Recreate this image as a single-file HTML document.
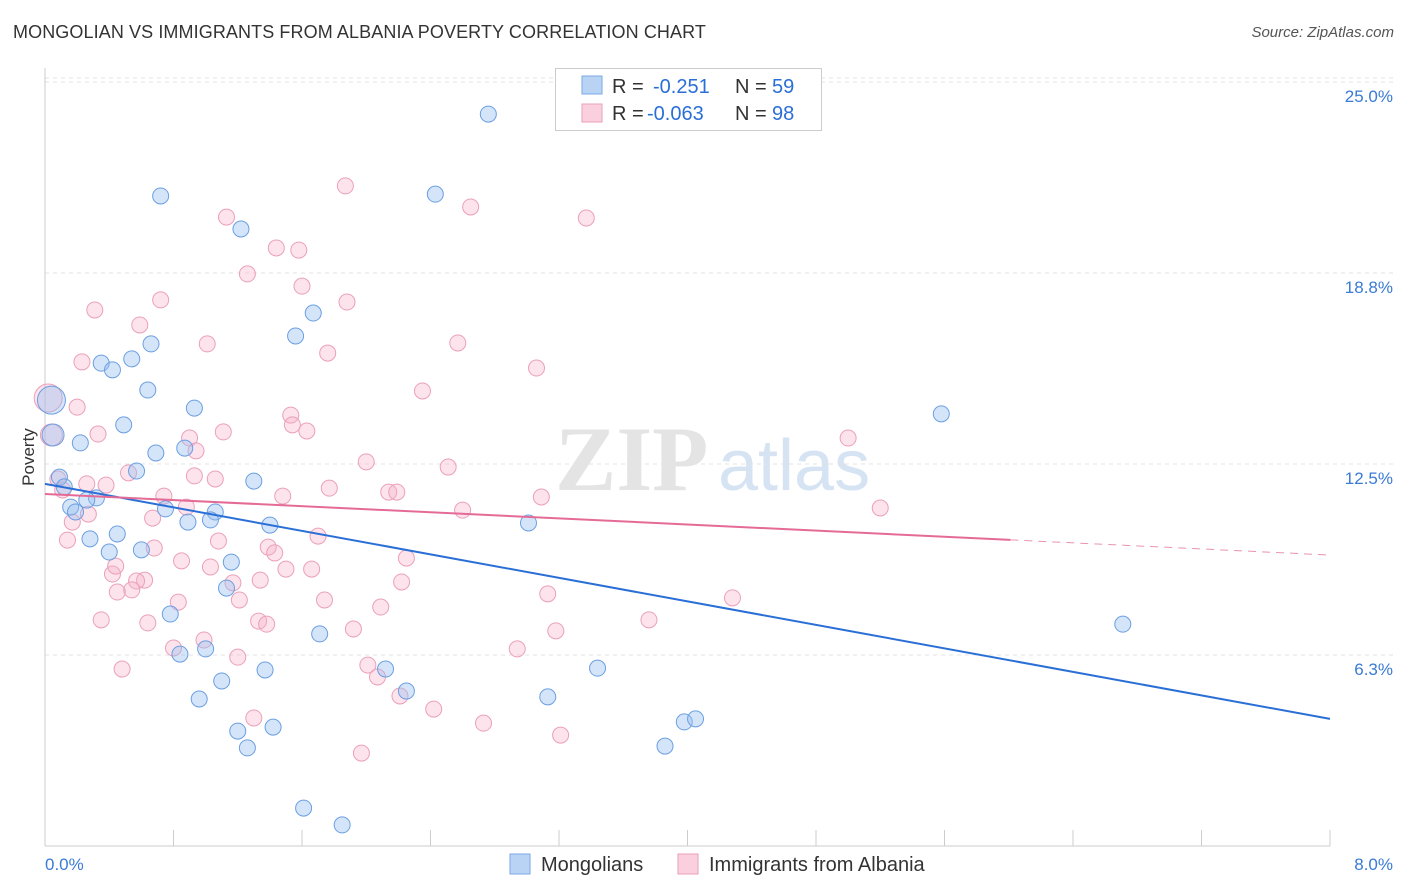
<!DOCTYPE html>
<html><head><meta charset="utf-8">
<style>
body{margin:0;background:#fff;font-family:"Liberation Sans",sans-serif;}
#wrap{position:relative;width:1406px;height:892px;overflow:hidden;}
.title{position:absolute;left:13px;top:22px;font-size:18px;color:#333;letter-spacing:0.1px;}
.source{position:absolute;right:12px;top:24px;font-size:15px;color:#555;font-style:italic;}
</style></head><body>
<div id="wrap">
<div class="title">MONGOLIAN VS IMMIGRANTS FROM ALBANIA POVERTY CORRELATION CHART</div>
<div class="source">Source: ZipAtlas.com</div>
<svg id="chart" width="1406" height="892" style="position:absolute;left:0;top:0"></svg>
</div>
<script>
const yTicks=[6.25,12.5,18.75,25];
const yTickLabels=["6.3%","12.5%","18.8%","25.0%"];
const xTickLabels=["0.0%","8.0%"];
const mongX=[2.76,0.72,2.43,1.22,1.67,1.56,0.66,0.54,0.35,0.42,0.64,0.93,0.49,0.04,0.05,0.22,0.69,0.87,0.57,1.30,0.09,0.12,0.32,0.26,0.16,0.19,0.75,1.06,1.03,0.89,1.40,3.01,0.28,0.45,0.40,0.60,1.16,1.13,0.78,1.71,5.58,6.71,0.84,1.00,1.37,2.12,3.44,1.10,2.25,3.13,0.96,1.20,1.42,3.98,4.05,1.26,3.86,1.61,1.85];
const mongY=[23.95,21.27,21.33,20.19,17.44,16.69,16.43,15.94,15.80,15.58,14.92,14.33,13.78,14.59,13.45,13.19,12.86,13.02,12.27,11.94,12.07,11.75,11.39,11.32,11.09,10.93,11.03,10.93,10.67,10.60,10.50,10.57,10.05,10.21,9.62,9.69,9.29,8.44,7.59,6.94,14.14,7.26,6.28,6.45,5.76,5.79,5.82,5.40,5.07,4.88,4.81,3.76,3.89,4.06,4.16,3.21,3.27,1.24,0.69];
const albX=[1.87,2.65,3.37,1.13,1.44,1.58,1.26,1.60,1.88,0.72,0.31,0.59,1.01,2.57,0.23,1.76,3.06,2.35,0.02,0.20,1.53,1.54,1.63,0.33,1.11,0.90,0.94,0.04,5.00,2.00,2.51,0.52,0.93,1.06,0.08,0.26,0.38,0.11,1.77,2.14,2.19,1.48,3.09,0.74,0.88,2.60,5.20,0.67,0.27,0.17,1.70,0.14,1.08,1.39,0.68,1.43,2.25,0.85,1.03,1.50,1.66,0.42,0.44,1.34,2.22,1.17,0.62,0.57,0.54,0.45,0.83,1.21,1.74,2.09,3.13,4.28,0.35,0.64,1.33,1.38,1.92,3.18,3.76,0.80,0.99,2.94,1.20,0.48,2.01,2.07,2.21,2.42,1.30,2.73,3.21,1.97];
const albY=[21.60,20.91,20.55,20.58,19.57,19.50,18.72,18.32,17.80,17.87,17.54,17.05,16.43,16.46,15.84,16.13,15.64,14.89,14.66,14.36,14.10,13.78,13.58,13.48,13.55,13.35,12.93,13.45,13.35,12.57,12.40,12.21,12.11,12.01,12.01,11.85,11.81,11.65,11.71,11.58,11.58,11.45,11.42,11.45,11.09,10.99,11.06,10.73,10.86,10.60,10.14,10.01,9.98,9.78,9.75,9.59,9.42,9.33,9.13,9.06,9.06,8.90,9.16,8.70,8.64,8.61,8.70,8.67,8.38,8.31,7.98,8.05,8.05,7.82,8.25,8.12,7.40,7.30,7.36,7.26,7.10,7.04,7.40,6.48,6.74,6.45,6.18,5.79,5.92,5.53,4.91,4.48,4.19,4.02,3.63,3.04];
const mongTrend=[11.85,4.16];
const albTrend=[11.52,9.52];
const albSolidEnd=6.01;

const NS="http://www.w3.org/2000/svg";
const svg=document.getElementById('chart');
const X0=45,X1=1330,YB=846,PPU=764/25;
function sx(v){return X0+(v/8)*(X1-X0);}
function sy(v){return YB-v*PPU;}
function mk(tag,attrs,parent){const e=document.createElementNS(NS,tag);for(const k in attrs)e.setAttribute(k,attrs[k]);(parent||svg).appendChild(e);return e;}

// watermark
let wm=mk('text',{x:555,y:490,'font-size':92,'font-family':'Liberation Serif,serif',fill:'#e4e4e4','font-weight':'bold'});


wm.textContent='ZIP';
let wm2=mk('text',{x:718,y:490,'font-size':72,'font-family':'Liberation Sans,sans-serif',fill:'#d6e3f3'});


wm2.textContent='atlas';

// grid
mk('line',{x1:X0,x2:1393,y1:78,y2:78,stroke:'#e3e3e3','stroke-dasharray':'4,4'});
yTicks.forEach((t,i)=>{
  const g=mk('line',{x1:X0,x2:1393,y1:sy(t),y2:sy(t),stroke:'#e3e3e3','stroke-dasharray':'4,4'});
  
  
  const tx=mk('text',{x:1393,y:sy(t)+20,'text-anchor':'end','font-size':17,fill:'#3a7bd5'});
  
  
  tx.textContent=yTickLabels[i];
});
// axes
mk('line',{x1:X0,x2:X0,y1:68,y2:YB,stroke:'#ccc'});
mk('line',{x1:X0,x2:X1,y1:YB,y2:YB,stroke:'#ccc'});
for(let i=0;i<=10;i++){const x=X0+i*(X1-X0)/10;mk('line',{x1:x,x2:x,y1:830,y2:YB,stroke:'#ccc'});}
let xl=mk('text',{x:45,y:870,'font-size':17,fill:'#3a7bd5'});


xl.textContent=xTickLabels[0];
let xr=mk('text',{x:1393,y:870,'text-anchor':'end','font-size':17,fill:'#3a7bd5'});


xr.textContent=xTickLabels[1];
let yt=mk('text',{x:34,y:457,'font-size':17,fill:'#333',transform:'rotate(-90 34 457)','text-anchor':'middle'});


yt.textContent='Poverty';

// points
function pts(xs,ys,fill,stroke,name){
  xs.forEach((v,i)=>{
    const big=(v<0.06&&ys[i]>13.3);
    const c=mk('circle',{cx:sx(v),cy:sy(ys[i]),r:big?(ys[i]>14.3?14:11):8,fill:fill,stroke:stroke,'stroke-width':1});
    
    
  });
}
pts(albX,albY,'rgba(246,176,200,0.35)','#eba0ba','albania-point');
pts(mongX,mongY,'rgba(150,190,240,0.4)','#6b9fe2','mongolian-point');

// trends
let tb=mk('line',{x1:sx(0),y1:sy(mongTrend[0]),x2:sx(8),y2:sy(mongTrend[1]),stroke:'#2a6fd6','stroke-width':2});


const ay=v=>albTrend[0]+(albTrend[1]-albTrend[0])*v/8;
let tp=mk('line',{x1:sx(0),y1:sy(ay(0)),x2:sx(albSolidEnd),y2:sy(ay(albSolidEnd)),stroke:'#e56b97','stroke-width':2});


let tpd=mk('line',{x1:sx(albSolidEnd),y1:sy(ay(albSolidEnd)),x2:sx(8),y2:sy(ay(8)),stroke:'#e993b2','stroke-width':1,'stroke-dasharray':'8,6'});



// legend top
let lg=mk('rect',{x:555.5,y:68.5,width:266,height:62,fill:'#fff',stroke:'#ccc'});


mk('rect',{x:582,y:76,width:20,height:18,fill:'#b9d3f5',stroke:'#7aa8e6'});
mk('rect',{x:582,y:104,width:20,height:18,fill:'#fad0de',stroke:'#eba0ba'});
function lt(x,y,s,c,n){const t=mk('text',{x:x,y:y,'font-size':20,fill:c});t.textContent=s;}
lt(612,93,'R =','#333','legend-r-label');lt(653,93,'-0.251','#2a6fd6','mongolian-r-value');
lt(735,93,'N =','#333','legend-n-label');lt(772,93,'59','#2a6fd6','mongolian-n-value');
lt(612,120,'R =','#333','legend-r-label');lt(647,120,'-0.063','#2a6fd6','albania-r-value');
lt(735,120,'N =','#333','legend-n-label');lt(772,120,'98','#2a6fd6','albania-n-value');

// bottom legend
let b1=mk('rect',{x:510,y:854,width:20,height:20,fill:'#b9d3f5',stroke:'#7aa8e6'});


lt(541,871,'Mongolians','#333','legend-label-mongolians');
let b2=mk('rect',{x:678,y:854,width:20,height:20,fill:'#fad0de',stroke:'#eba0ba'});


lt(709,871,'Immigrants from Albania','#333','legend-label-albania');
</script>
</body></html>
